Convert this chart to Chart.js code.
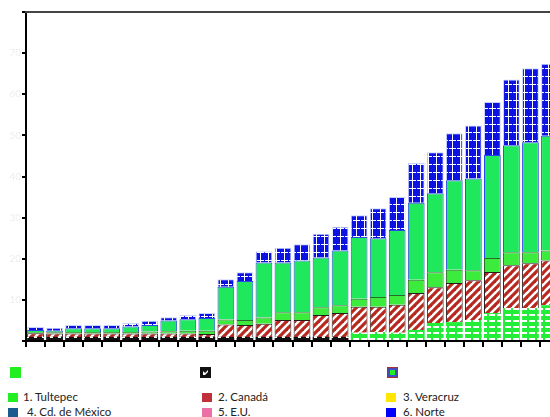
<!DOCTYPE html>
<html>
<head>
<meta charset="utf-8">
<script src="https://cdn.jsdelivr.net/npm/chart.js@4.4.1/dist/chart.umd.min.js"></script>
<style>
  html, body { margin:0; padding:0; background:#fff; overflow:hidden; width:550px; height:417px; }
  #wrap { position:absolute; left:0; top:0; width:575px; height:360px; }
  .lg { position:absolute; font-family:Lato, "Open Sans", sans-serif; font-size:11.5px; color:#222; white-space:nowrap; line-height:14px; }
  .sq { position:absolute; width:10px; height:9px; }
</style>
</head>
<body>
<div id="wrap"><canvas id="c" width="575" height="360"></canvas></div>

<!-- legend row 1 (unlabelled keys) -->
<svg style="position:absolute;left:10px;top:367px" width="11" height="11"><rect x="0" y="0" width="11" height="11" fill="#22ee22"/></svg>
<svg style="position:absolute;left:200px;top:367px" width="11" height="11"><rect x="0" y="0" width="11" height="11" fill="#111"/><polygon points="3,8 3,4 5,6 8,3 8,5 5,8" fill="#fff"/></svg>
<svg style="position:absolute;left:387px;top:367px" width="11" height="11"><rect x="0.5" y="0.5" width="10" height="10" fill="#3050e0" stroke="#a0303a" stroke-width="1.5"/><rect x="3" y="3" width="5" height="5" fill="#22ee22"/></svg>

<div id="legend"></div>

<script>
// ---- data ----
const categories = ['1','2','3','4','5','6','7','8','9','10','11','12','13','14','15','16','17','18','19','20','21','22','23','24','25','26','27','28'];
const baseValues   = [1.0,1.0,1.0,1.0,1.0,1.0,1.0,1.0,1.0,1.0, 1.0,1.0,1.0,1.0,1.0,1.0,1.0, 2.0,2.2,2.0,2.7,4.4,4.6,5.1,6.8,8.0,8.0,8.7];
const canadaValues = [0.9,0.8,0.8,0.8,0.8,0.8,0.8,0.8,0.8,0.7, 3.0,2.9,3.2,4.1,4.1,5.3,5.8, 6.3,6.1,6.8,9.0,8.7,9.5,9.7,10.0,10.4,10.9,10.9];
const stripValues  = [0.3,0.3,0.4,0.4,0.4,0.4,0.5,0.6,0.7,0.8, 1.2,1.2,1.5,1.9,1.9,1.9,1.9, 2.0,2.4,2.4,3.2,3.6,3.2,2.4,3.4,3.2,2.7,2.4];
const tultepecValues = [0.5,0.4,0.9,0.9,0.9,1.3,1.6,2.6,2.8,3.1, 8.0,9.5,13.4,12.1,12.6,12.1,13.3, 15.0,14.3,15.8,18.7,19.2,21.8,22.3,25.0,26.0,26.7,27.9];
const norteValues  = [0.7,0.7,0.8,0.8,0.8,0.9,1.0,0.8,1.0,1.2, 1.8,2.1,2.7,3.6,3.9,5.8,5.8, 5.3,7.3,8.0,9.7,10.0,11.4,12.9,12.9,16.0,18.0,17.5];
const yTickLabels = ['', '10', '20', '30', '40', '50', '60', '70', ''];
const legendNames = ['1. Tultepec', '2. Canadá', '3. Veracruz', '4. Cd. de México', '5. E.U.', '6. Norte'];
const legendColors = ['#22ee22', '#c0303a', '#ffe600', '#1a5a8c', '#ec70a6', '#0000ff'];

// ---- legend (HTML) ----
const legendPos = [[8,392,23],[202,392,218],[386,392,403],[8,407,27],[202,407,218],[386,407,403]];
const lg = document.getElementById('legend');
legendNames.forEach((n,i)=>{
  const [sx, y, tx] = legendPos[i];
  const s = document.createElement('div'); s.className='sq';
  s.style.left = sx+'px'; s.style.top = (y+1)+'px'; s.style.background = legendColors[i];
  lg.appendChild(s);
  const t = document.createElement('div'); t.className='lg';
  t.style.left = tx+'px'; t.style.top = (y-2)+'px'; t.textContent = n;
  lg.appendChild(t);
});

// ---- patterns ----
function makePattern(w, h, draw) {
  const c = document.createElement('canvas'); c.width = w; c.height = h;
  const x = c.getContext('2d'); draw(x, w, h);
  return x.createPattern(c, 'repeat');
}
const hatch = makePattern(8, 8, (x)=>{
  x.fillStyle = '#fff'; x.fillRect(0,0,8,8);
  x.strokeStyle = '#b8281f'; x.lineWidth = 3.2;
  [[-4,4,4,-4],[0,8,8,0],[4,12,12,4]].forEach(l=>{ x.beginPath(); x.moveTo(l[0],l[1]); x.lineTo(l[2],l[3]); x.stroke(); });
});
const blueCross = makePattern(8, 8, (x)=>{
  x.fillStyle = '#0b12e2'; x.fillRect(0,0,8,8);
  x.fillStyle = '#fff'; x.fillRect(4,0,1,8); x.fillRect(1,4,7,1);
});
const greenStripe = makePattern(8, 6, (x)=>{
  x.fillStyle = '#22ee3a'; x.fillRect(0,0,8,6);
  x.fillStyle = '#fff'; x.fillRect(1,2,6,2);
});
const blackBase = makePattern(8, 4, (x)=>{
  x.fillStyle = '#111'; x.fillRect(0,0,8,4);
  x.fillStyle = '#fff'; x.fillRect(2,1,3,1);
});
const baseColors = baseValues.map((v,i)=> i < 17 ? blackBase : greenStripe);

// ---- chart ----
const frame = {
  id: 'frame',
  afterDraw(chart) {
    const {ctx, chartArea} = chart;
    ctx.save();
    ctx.strokeStyle = '#444'; ctx.lineWidth = 2;
    ctx.beginPath(); ctx.moveTo(chartArea.left-1, chartArea.top); ctx.lineTo(chart.width, chartArea.top); ctx.stroke();
    ctx.restore();
  }
};

new Chart(document.getElementById('c'), {
  type: 'bar',
  data: {
    labels: categories,
    datasets: [
      { label: '4. Cd. de México', data: baseValues, backgroundColor: baseColors, borderWidth: 0 },
      { label: '2. Canadá', data: canadaValues, backgroundColor: hatch, borderColor: '#2a1a1a', borderWidth: 1 },
      { label: '3. Veracruz', data: stripValues, backgroundColor: '#3cec3c', borderColor: '#2a6a2a', borderWidth: 1 },
      { label: '1. Tultepec', data: tultepecValues, backgroundColor: '#20e85c', borderColor: '#2a48e6', borderWidth: 1 },
      { label: '6. Norte', data: norteValues, backgroundColor: blueCross, borderColor: '#c8d4ff', borderWidth: 1 }
    ]
  },
  options: {
    responsive: false,
    animation: false,
    layout: { padding: { top: 12, left: 0, right: 16, bottom: 0 } },
    datasets: { bar: { barPercentage: 0.88, categoryPercentage: 1.0 } },
    plugins: { legend: { display: false }, tooltip: { enabled: false } },
    scales: {
      x: {
        stacked: true,
        afterFit(s) { s.height = 19; },
        grid: { drawOnChartArea: false, drawTicks: true, tickLength: 6, color: '#000', lineWidth: 2, offset: true },
        border: { display: true, color: '#000', width: 2 },
        ticks: { display: false }
      },
      y: {
        stacked: true,
        min: 0, max: 80,
        afterFit(s) { s.width = 26; },
        grid: { drawOnChartArea: false, drawTicks: true, tickLength: 4, color: '#000', lineWidth: 2 },
        border: { display: true, color: '#000', width: 2 },
        ticks: {
          stepSize: 10, padding: 1, color: '#ededed',
          font: { family: 'Lato', size: 10 },
          callback: (v, i) => yTickLabels[i]
        }
      }
    }
  },
  plugins: [frame]
});
</script>
</body>
</html>
